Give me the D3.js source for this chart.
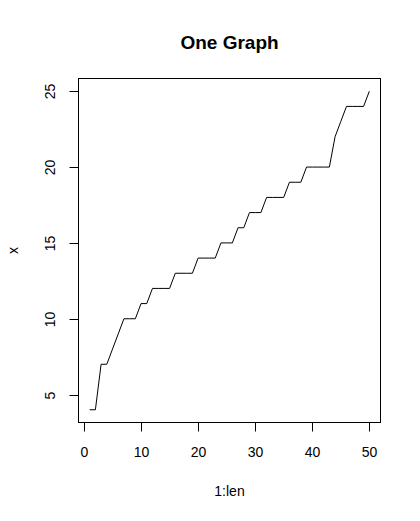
<!DOCTYPE html>
<html>
<head>
<meta charset="utf-8">
<script src="https://cdn.jsdelivr.net/npm/d3@7"></script>
<style>
  html, body { margin: 0; padding: 0; background: #fff; }
  svg { display: block; font-family: "Liberation Sans", Arial, Helvetica, sans-serif; }
</style>
</head>
<body>
<svg id="chart" width="420" height="521"></svg>
<script>
const xIndex = d3.range(1, 51);
const xValues = [4, 4, 7, 7, 8, 9, 10, 10, 10, 11,
                 11, 12, 12, 12, 12, 13, 13, 13, 13, 14,
                 14, 14, 14, 15, 15, 15, 16, 16, 17, 17,
                 17, 18, 18, 18, 18, 19, 19, 19, 20, 20,
                 20, 20, 20, 22, 23, 24, 24, 24, 24, 25];
const xTicks = [0, 10, 20, 30, 40, 50];
const yTicks = [5, 10, 15, 20, 25];
const title = "One Graph";
const xLabel = "1:len";
const yLabel = "x";

(function () {
const svg = d3.select("#chart");
const pLeft = 78.5, pRight = 380.5, pTop = 78.5, pBottom = 422.5;

function ext(lo, hi) { const d = (hi - lo) * 0.04; return [lo - d, hi + d]; }
const x = d3.scaleLinear().domain(ext(d3.min(xIndex), d3.max(xIndex))).range([pLeft, pRight]);
const y = d3.scaleLinear().domain(ext(d3.min(xValues), d3.max(xValues))).range([pBottom, pTop]);

// line
const data = xIndex.map((v, i) => [v, xValues[i]]);
svg.append("path")
  .datum(data)
  .attr("fill", "none")
  .attr("stroke", "#000")
  .attr("stroke-width", 1)
  .attr("d", d3.line().x(d => x(d[0])).y(d => y(d[1])));

// box
svg.append("rect")
  .attr("x", pLeft).attr("y", pTop)
  .attr("width", pRight - pLeft).attr("height", pBottom - pTop)
  .attr("fill", "none").attr("stroke", "#000").attr("stroke-width", 1);

// x axis
const gx = svg.append("g")
  .attr("transform", `translate(0,${pBottom})`)
  .call(d3.axisBottom(x).tickValues(xTicks).tickSize(9).tickSizeOuter(0).tickPadding(16));
gx.select(".domain").remove();
gx.selectAll("text").attr("font-size", 14).attr("fill", "#000")
  .attr("font-family", '"Liberation Sans", Arial, sans-serif');
gx.selectAll("line").attr("stroke", "#000");
gx.selectAll(".tick").attr("transform", d => `translate(${Math.round(x(d)) + 0.5},0)`);

// y axis
const gy = svg.append("g")
  .attr("transform", `translate(${pLeft},0)`)
  .call(d3.axisLeft(y).tickValues(yTicks).tickSize(9).tickSizeOuter(0));
gy.select(".domain").remove();
gy.selectAll(".tick").attr("transform", d => `translate(0,${Math.round(y(d)) + 0.5})`);
gy.selectAll("line").attr("stroke", "#000");
gy.selectAll("text")
  .attr("font-size", 14).attr("fill", "#000")
  .attr("font-family", '"Liberation Sans", Arial, sans-serif')
  .attr("x", null).attr("dy", null)
  .attr("text-anchor", "middle")
  .attr("transform", "translate(-24,0) rotate(-90)")
  .attr("y", 0);

// title
svg.append("text")
  .attr("x", (pLeft + pRight) / 2).attr("y", 49)
  .attr("text-anchor", "middle")
  .attr("font-size", 19).attr("font-weight", "bold")
  .text(title);

// x label
svg.append("text")
  .attr("x", (pLeft + pRight) / 2).attr("y", 496)
  .attr("text-anchor", "middle")
  .attr("font-size", 14)
  .text(xLabel);

// y label
svg.append("text")
  .attr("transform", `translate(18,${(pTop + pBottom) / 2}) rotate(-90)`)
  .attr("text-anchor", "middle")
  .attr("font-size", 14)
  .text(yLabel);
})();
</script>
</body>
</html>
